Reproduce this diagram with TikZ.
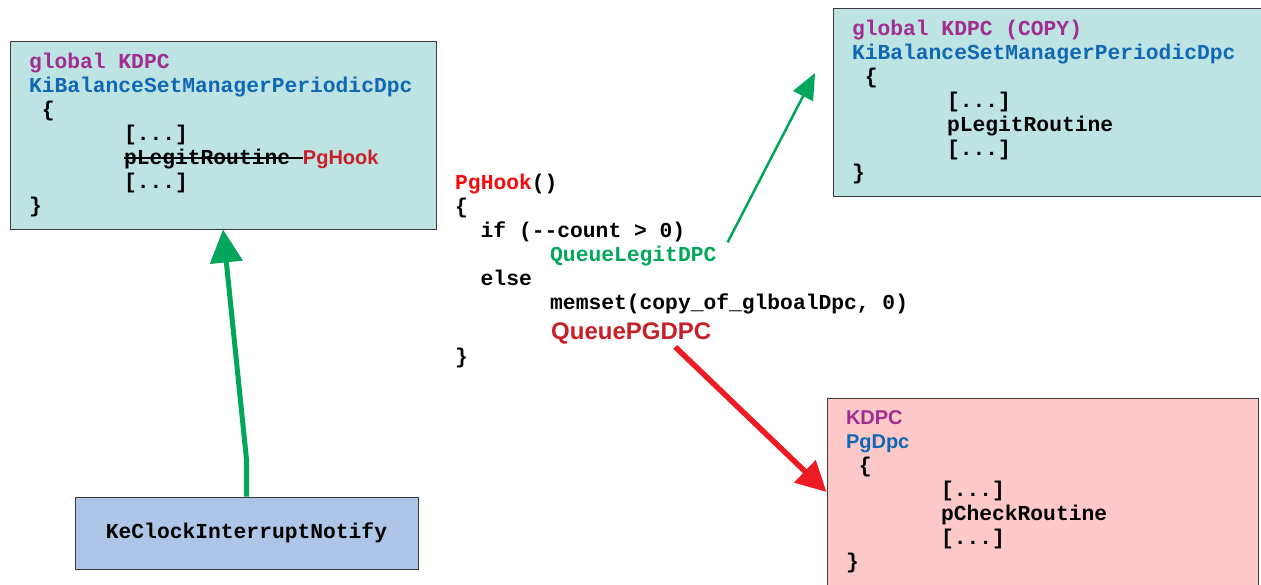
\documentclass[tikz,border=0pt]{standalone}
\usepackage{fontspec}
\setmainfont{Liberation Sans}
\setsansfont{Liberation Sans}
\setmonofont{Liberation Mono}
\usetikzlibrary{arrows.meta}

\definecolor{kteal}{RGB}{189,227,227}
\definecolor{kpink}{RGB}{252,200,200}
\definecolor{kbluebox}{RGB}{173,197,231}
\definecolor{kborder}{RGB}{60,60,60}
\definecolor{kpurple}{RGB}{162,45,145}
\definecolor{kblue}{RGB}{16,104,180}
\definecolor{kred}{RGB}{200,30,40}
\definecolor{hookred}{RGB}{250,10,10}
\definecolor{kgreen}{RGB}{0,166,90}
\definecolor{arrred}{RGB}{237,28,36}

\newcommand{\codefont}{\fontsize{21.3}{24}\selectfont\ttfamily\bfseries}
\newcommand{\codetab}{\hspace*{95pt}}
\newcommand{\onesp}{\hspace*{12.78pt}}
\newcommand{\strk}[1]{\setbox0\hbox{#1}\rlap{\rule[0.27em]{\wd0}{1.6pt}}\box0}

\begin{document}
\begin{tikzpicture}[x=1pt,y=-1pt,
    codebox/.style={draw=kborder,line width=1pt,rectangle,inner xsep=19pt,inner ysep=0pt,
      align=left,font=\codefont,minimum height=188pt},
    codeline/.style={anchor=base west,inner xsep=0pt,inner ysep=3pt,font=\codefont},
    thickgreen/.style={draw=kgreen,line width=5pt,-{Triangle[length=33pt,width=32pt]}},
    thingreen/.style={draw=kgreen,line width=2.5pt,-{Triangle[length=26pt,width=22pt]}},
    thickred/.style={draw=arrred,line width=5.5pt,-{Triangle[length=30pt,width=30pt]}}]

  \clip (0,0) rectangle (1261,584);

  \node[codebox,fill=kteal,text width=388pt] (glob) at (223,135)
    {\textcolor{kpurple}{global\onesp KDPC}\\
     \textcolor{kblue}{KiBalanceSetManagerPeriodicDpc}\\
     \onesp\{\\
     \codetab[...]\\
     \codetab\strk{pLegitRoutine\onesp}{\sffamily\fontsize{20}{24}\selectfont\textcolor{kred}{PgHook}}\\
     \codetab[...]\\
     \}};

  \node[codebox,fill=kteal,text width=392pt] (copy) at (1048,102)
    {\textcolor{kpurple}{global\onesp KDPC\onesp(COPY)}\\
     \textcolor{kblue}{KiBalanceSetManagerPeriodicDpc}\\
     \onesp\{\\
     \codetab[...]\\
     \codetab pLegitRoutine\\
     \codetab[...]\\
     \}};

  \node[codebox,fill=kpink,text width=393pt] (pgbox) at (1042.5,492)
    {{\sffamily\fontsize{20}{24}\selectfont\textcolor{kpurple}{KDPC}}\\
     {\sffamily\fontsize{20}{24}\selectfont\textcolor{kblue}{PgDpc}}\\
     \onesp\{\\
     \codetab[...]\\
     \codetab pCheckRoutine\\
     \codetab[...]\\
     \}};

  \node[draw=kborder,line width=1pt,fill=kbluebox,font=\codefont,
        minimum width=343pt,minimum height=72pt] (kcin) at (246.5,533) {KeClockInterruptNotify};

  \node[codeline] (hook)  at (455,189)   {\textcolor{hookred}{PgHook}()};
  \node[codeline] (open)  at (455,213)   {\{};
  \node[codeline] (cond)  at (480.5,237) {if (-{}-count > 0)};
  \node[codeline] (legit) at (550,261)   {\textcolor{kgreen}{QueueLegitDPC}};
  \node[codeline] (els)   at (480.5,285) {else};
  \node[codeline] (mset)  at (550,309)   {memset(copy\_of\_glboalDpc, 0)};
  \node[codeline,font=\sffamily\bfseries\fontsize{24}{28}\selectfont] (pgq) at (551,339)
    {\textcolor{kred}{QueuePGDPC}};
  \node[codeline] (close) at (455,363)   {\}};

  \coordinate (copyin) at (815,73);

  \draw[thickgreen] (kcin.north) -- ++(0,-37) -- (glob.south);
  \draw[thingreen] ([xshift=11pt]legit.north east) -- (copyin);
  \draw[thickred] ([xshift=44pt]pgq.south) -- (pgbox.west);

\end{tikzpicture}
\end{document}
